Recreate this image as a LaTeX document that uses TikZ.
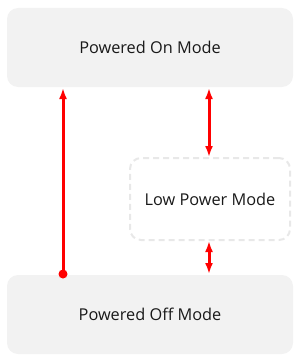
\documentclass[tikz,border=0pt]{standalone}
\usepackage{fontspec}
\setmainfont{Open Sans}
\usetikzlibrary{arrows.meta}
\definecolor{boxgray}{HTML}{F2F2F2}
\definecolor{dashgray}{HTML}{E8E8E8}
\begin{document}
\begin{tikzpicture}[x=1pt,y=-1pt,
  modebox/.style={fill=boxgray,draw=none,rounded corners=11pt,minimum width=286pt,minimum height=79pt,font=\fontsize{16.3}{19}\selectfont,text=black!90},
  lowbox/.style={draw=dashgray,line width=2pt,dash pattern=on 6pt off 4pt,rounded corners=11pt,minimum width=160pt,minimum height=82pt,font=\fontsize{16.3}{19}\selectfont,text=black!90},
  redarrow/.style={draw=red,line width=3pt,-{Latex[length=11pt,width=8pt]}},
  dblarrow/.style={draw=red,line width=3pt,{Latex[length=11pt,width=8pt]}-{Latex[length=11pt,width=8pt]}}]
\useasboundingbox (0,0) rectangle (300,361);
\node[modebox] (on) at (150,47.5) {Powered On Mode};
\node[modebox] (off) at (150,314.5) {Powered Off Mode};
\node[lowbox] (low) at (210,199) {Low Power Mode};
\coordinate (a1) at (63,274);
\coordinate (a2) at (63,88);
\draw[redarrow] (a1) -- (a2);
\fill[red] (a1) circle (4.5pt);
\coordinate (b1) at (209,88);
\coordinate (b2) at (209,157);
\draw[dblarrow] (b1) -- (b2);
\coordinate (c1) at (209,241);
\coordinate (c2) at (209,274);
\draw[dblarrow] (c1) -- (c2);
\end{tikzpicture}
\end{document}
